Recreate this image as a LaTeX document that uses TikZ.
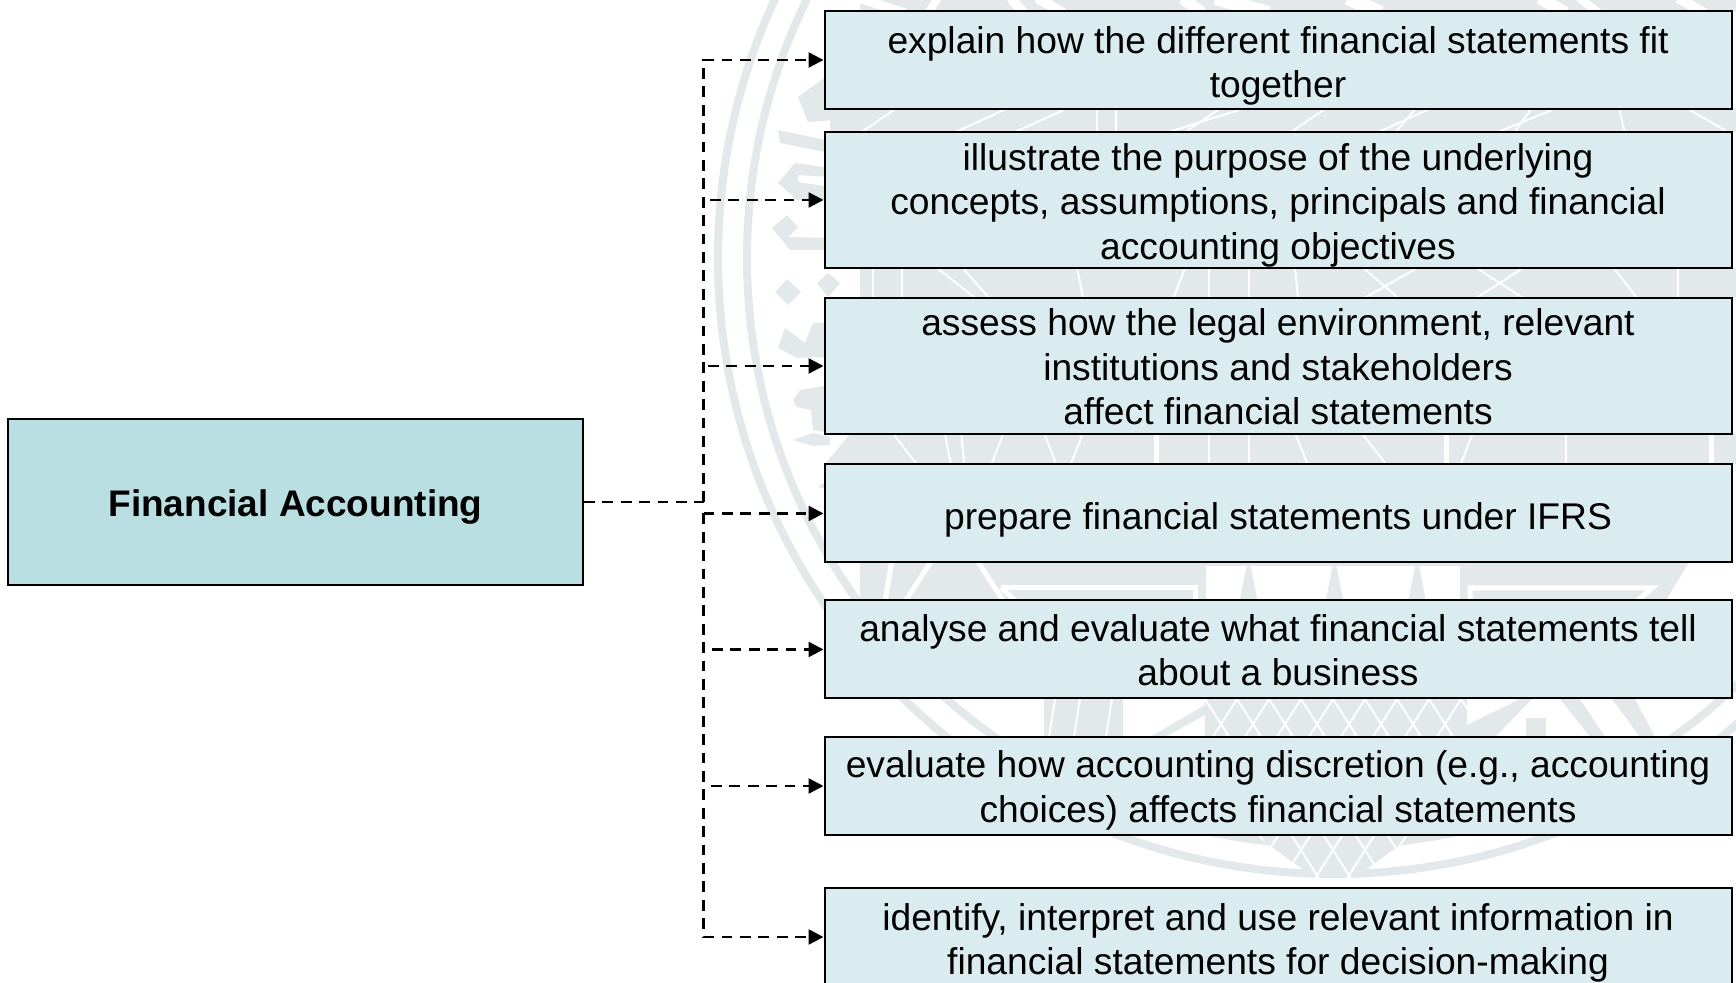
\documentclass[tikz,border=0pt]{standalone}
\usepackage{fontspec}
\setmainfont{Liberation Sans}
\usetikzlibrary{arrows.meta}
\definecolor{seal}{HTML}{E3E8EA}
\definecolor{mainfill}{HTML}{B9DFE2}
\definecolor{itemfill}{HTML}{DAECEF}
\newcommand{\firstline}[1]{\rule{0pt}{#1pt}}
\tikzset{
  itembox/.style={draw=black,line width=1pt,fill=itemfill,minimum width=453.5pt,minimum height=49pt,inner sep=0pt,align=center,font=\fontsize{18.6}{22.3}\selectfont},
  mainbox/.style={draw=black,line width=1pt,fill=mainfill,minimum width=287.5pt,minimum height=83pt,inner sep=0pt,align=center,font=\fontsize{18.5}{22.3}\selectfont\bfseries},
  link/.style={draw=black,line width=1.2pt,dash pattern=on 5.4pt off 3.8pt},
  linkarrow/.style={link,-{Triangle[length=7.5pt,width=7.5pt]}},
  sealband/.style={draw=seal,line width=4pt},
  sealgap/.style={draw=white,line width=1pt},
  sealgapwide/.style={draw=white,line width=2.5pt}
}
\begin{document}
\begin{tikzpicture}[x=0.5pt,y=-0.5pt]
\useasboundingbox (0,0) rectangle (1736,983);
\begin{scope}
\clip (0,0) rectangle (1736,983);
% seal rings
\draw[sealband] (1334,258) circle[radius=308pt];
\draw[sealband] (1334,258) circle[radius=293.5pt];
% left-hand ornaments
\fill[seal] (775,292) -- (787,279) -- (801,292) -- (788,305) -- cycle;
\fill[seal] (817,283) -- (828,273) -- (840,283) -- (828,297) -- cycle;
\fill[seal] (772,228) -- (787,215) -- (798,227) -- (788,237) -- (830,238) -- (830,250) -- (790,250) -- cycle;
\fill[seal] (785,328) -- (805,343) -- (813,323) -- (830,323) -- (830,357) -- (797,358) -- (778,348) -- cycle;
\fill[seal] (793,400) -- (800,390) -- (830,385) -- (830,433) -- (813,430) -- (811,410) -- (797,407) -- cycle;
\fill[seal] (793,440) -- (813,433) -- (830,437) -- (830,445) -- (813,446) -- cycle;
\fill[seal] (818,487) -- (830,478) -- (830,490) -- cycle;
\fill[seal] (798,97) -- (824,78) -- (830,109) -- (863,109) -- (863,118) -- (808,122) -- cycle;
\fill[seal] (778,130) -- (830,141) -- (830,153) -- (780,143) -- cycle;
\fill[seal] (778,183) -- (795,163) -- (830,168) -- (830,177) -- (798,175) -- (798,182) -- (830,187) -- (830,200) -- (797,200) -- cycle;
% top strip
\fill[seal] (860,0) rectangle (1736,11);
\foreach \a/\b/\w in {240/310/9,360/345/8,470/490/10,510/550/10,730/760/12,780/860/14,980/1030/14,1270/1310/12,1330/1360/8,1480/1520/10}
  \draw[draw=white,line width=\w pt/2] ({700+\a/1.513},-2) -- ({700+\b/1.513},13);
% gap between boxes 1 and 2
\fill[seal] (830,109) rectangle (1736,132);
\foreach \a/\b in {300/240,470/380,560/470,600/600,630/630,830/700,790/730,950/890,1110/1020,1085/1050,1300/1200,1260/1230,1390/1400,1490/1560}
  \draw[sealgap] ({700+\a/1.513},107) -- ({700+\b/1.513},134);
% gap between boxes 2 and 3
\fill[seal] (860,268) rectangle (1736,298);
\foreach \a/\b in {262/262,305/305,355/420,395/440,570/580,735/715,770/770,830/830,900/905,1000/1060,1090/1000,1170/1250,1250/1170,1380/1420,1480/1480}
  \draw[sealgap] ({700+\a/1.513},266) -- ({700+\b/1.513},300);
% gap between boxes 3 and 4
\fill[seal] (850,434) -- (1736,434) -- (1736,464) -- (825,464) -- cycle;
\foreach \a/\b in {290/330,370/380,395/400,460/440,520/540,580/560,770/770,830/830,900/920,1000/1040,1170/1150,1310/1310}
  \draw[sealgap] ({700+\a/1.513},432) -- ({700+\b/1.513},466);
\foreach \a in {690,1130,1530}
  \draw[sealgapwide] ({700+\a/1.513},432) -- ({700+\a/1.513},466);
% gap between boxes 4 and 5
\fill[seal] (860,563) rectangle (1700,600);
\fill[white] (1206,566) rectangle (1460,602);
\foreach \a in {830,960,1085}
  \fill[seal] ({700+\a/1.513-2},566) -- ({700+\a/1.513+2},566) -- ({700+\a/1.513+9},602) -- ({700+\a/1.513-9},602) -- cycle;
\draw[sealgapwide] (1001,588) -- (1195,588) -- (1195,602);
\draw[sealgapwide] (1001,588) -- (1017,602);
\draw[sealgapwide] (1470,602) -- (1470,588) -- (1652,588) -- (1636,602);
\foreach \a/\b in {290/280,350/310,420/460}
  \draw[sealgapwide] ({700+\a/1.513},561) -- ({700+\b/1.513},602);
\fill[white] (1690,561) -- (1740,561) -- (1740,602) -- (1665,602) -- cycle;
% gap between boxes 5 and 6, and the lattice below
\fill[seal] (1044,699) rectangle (1123,737);
\foreach \a in {1055,1080,1112}
  \draw[sealgap] (\a,699) -- ({\a-6},737);
\fill[seal] (1150,737) -- (1165,737) -- (1205,715) -- (1205,705) -- cycle;
\fill[seal] (1467,725) -- (1520,699) -- (1532,699) -- (1495,737) -- (1467,737) -- cycle;
\fill[seal] (1526,718) rectangle (1546,737);
\fill[seal] (1560,699) -- (1580,699) -- (1605,737) -- (1590,737) -- cycle;
\fill[seal] (1612,699) -- (1635,699) -- (1655,737) -- (1640,737) -- cycle;
\begin{scope}
\clip (1205,699) -- (1467,699) -- (1467,737) -- (1414,835) -- (1354,878) -- (1315,878) -- (1255,835) -- (1205,737) -- cycle;
\fill[seal] (1205,699) rectangle (1467,880);
\foreach \k in {-8,...,12} {
  \draw[sealgap] ({1205+32*\k},699) -- ({1205+32*\k+115},880);
  \draw[sealgap] ({1205+32*\k},699) -- ({1205+32*\k-115},880);
}
\end{scope}
\end{scope}
\node[itembox] (b1) at (1278,60) {\firstline{19.3}explain how the different financial statements fit\\together};
\node[itembox,minimum height=68pt] (b2) at (1278,200) {\firstline{18.7}illustrate the purpose of the underlying\\concepts, assumptions, principals and financial\\accounting objectives};
\node[itembox,minimum height=68pt] (b3) at (1278,366) {\firstline{14.3}assess how the legal environment, relevant\\institutions and stakeholders\\affect financial statements};
\node[itembox] (b4) at (1278,513.5) {\firstline{20.3}prepare financial statements under IFRS};
\node[itembox] (b5) at (1278,649.5) {\firstline{14.3}analyse and evaluate what financial statements tell\\about a business};
\node[itembox] (b6) at (1278,786) {\firstline{18.1}evaluate how accounting discretion (e.g., accounting\\choices) affects financial statements};
\node[itembox] (b7) at (1278,937) {\firstline{19.3}identify, interpret and use relevant information in\\financial statements for decision-making};
\node[mainbox] (m) at (295.5,502) {\firstline{18}Financial Accounting};
\coordinate (j) at (703.5,502);
\coordinate (t2) at (710,200);
\coordinate (t3) at (708,366);
\coordinate (t4) at (703.5,513.5);
\coordinate (t5) at (712,649.5);
\coordinate (t6) at (711,786);
\draw[link] (m.east) -- (j);
\draw[linkarrow] (j) |- (b1.west);
\draw[linkarrow] (t4) |- (b7.west);
\draw[linkarrow] (t2) -- (b2.west);
\draw[linkarrow] (t3) -- (b3.west);
\draw[linkarrow] (t4) -- (b4.west);
\draw[linkarrow] (t5) -- (b5.west);
\draw[linkarrow] (t6) -- (b6.west);
\end{tikzpicture}
\end{document}
